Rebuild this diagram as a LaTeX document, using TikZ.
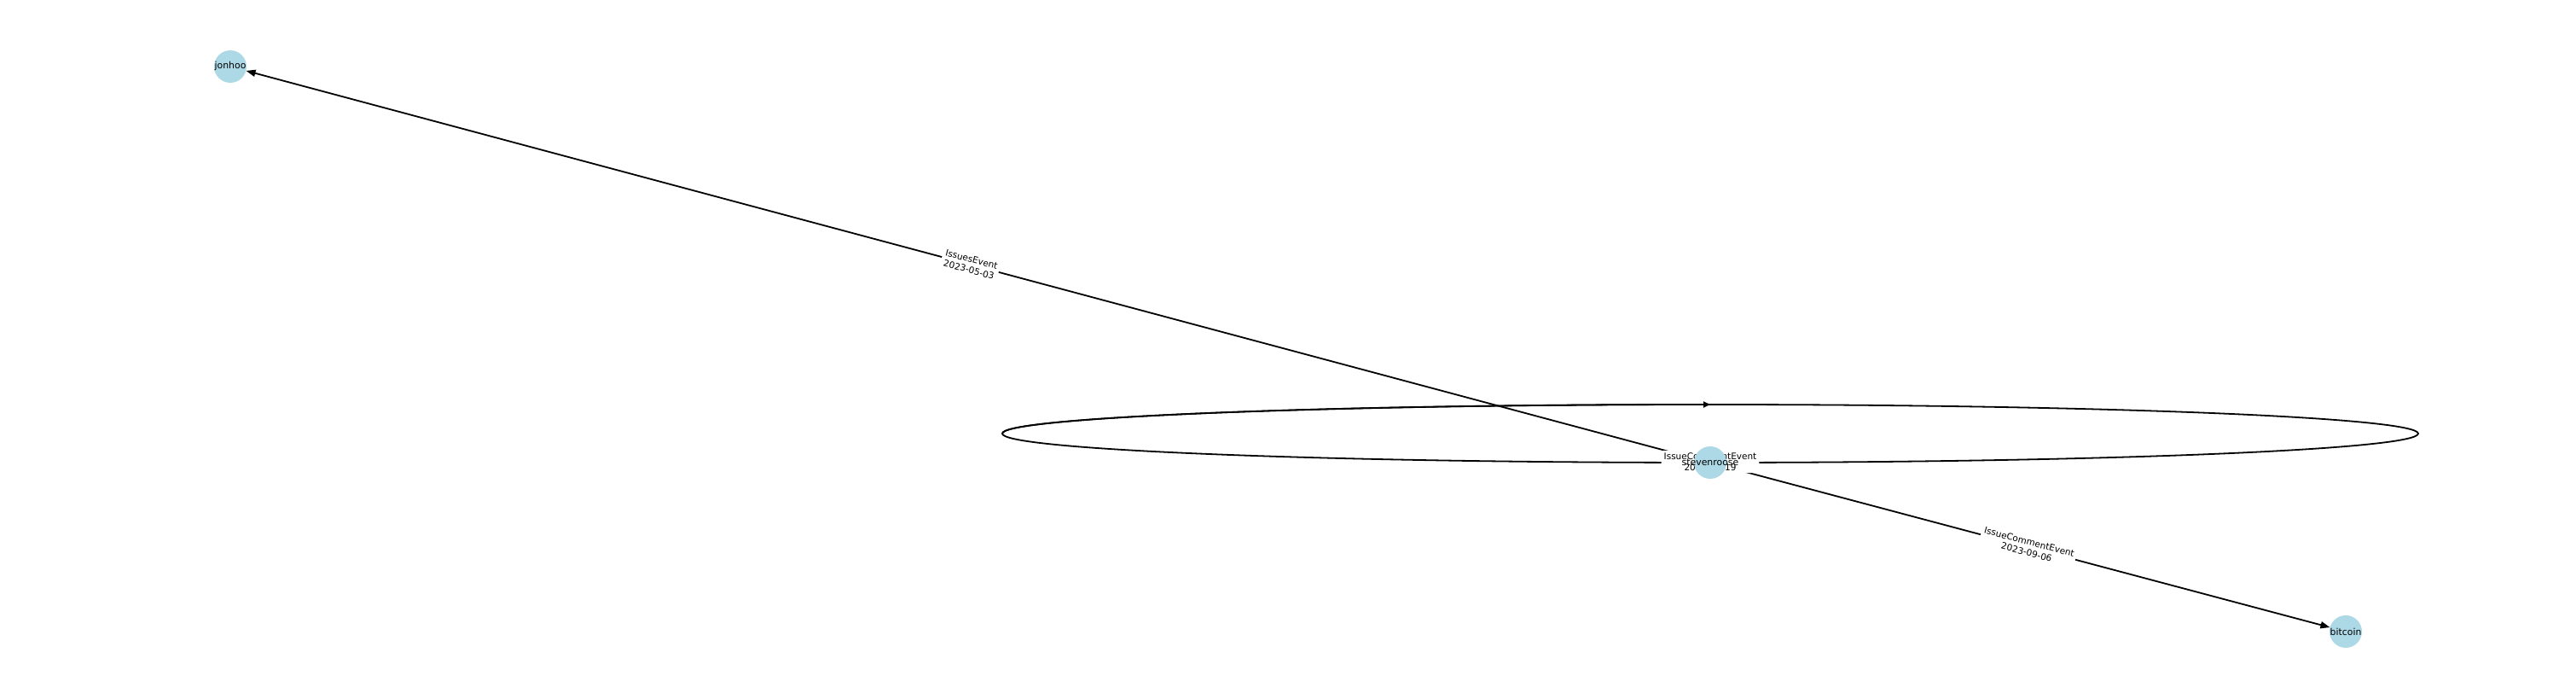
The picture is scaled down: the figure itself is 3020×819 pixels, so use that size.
\documentclass[tikz,border=0pt]{standalone}
\usepackage{fontspec}
\setmainfont{DejaVu Sans}
\usetikzlibrary{arrows.meta}
\definecolor{nodeblue}{RGB}{173,216,230}
\pgfdeclarelayer{edgelayer}
\pgfdeclarelayer{labellayer}
\pgfsetlayers{edgelayer,labellayer,main}
\begin{document}
\begin{tikzpicture}[x=1pt,y=1pt,
  vertex/.style={circle,fill=nodeblue,minimum size=38pt,inner sep=0pt},
  vtext/.style={font=\fontsize{10.9}{13}\selectfont,inner sep=0pt},
  edge/.style={line width=1.8pt,-{Triangle[length=11pt,width=8pt]}},
  loopline/.style={line width=1.8pt},
  elabel/.style={fill=white,rounded corners=3pt,inner sep=3pt,align=center,font=\fontsize{10.5}{12.5}\selectfont},
]
\useasboundingbox (0,0) rectangle (3020,819);
% vertices
\node[vertex] (j) at (270,741) {};
\node[vertex] (s) at (2005,277) {};
\node[vertex] (b) at (2750,79) {};
\node[vtext] (jt) at (j) {jonhoo};
\node[vtext] (st) at (s) {stevenroose};
\node[vtext] (bt) at (b) {bitcoin};
% edges
\begin{pgfonlayer}{edgelayer}
\draw[edge] (s) -- (j);
\draw[edge] (s) -- (b);
\coordinate (loopc) at (2005,311);
\coordinate (loopl) at (1175,311);
\draw[loopline] (loopc) ellipse [x radius=830, y radius=34];
\draw[loopline,-{Triangle[length=8pt,width=7pt]}] (loopl) arc[start angle=180, end angle=90, x radius=830, y radius=34];
\end{pgfonlayer}
% edge labels
\begin{pgfonlayer}{labellayer}
\path (j) -- (s) node[midway,sloped,elabel] (l1) {IssuesEvent\\2023-05-03};
\path (s) -- (b) node[midway,sloped,elabel] (l2) {IssueCommentEvent\\2023-09-06};
\node[elabel] (l3) at (2005,278) {IssueCommentEvent\\2023-09-19};
\end{pgfonlayer}
\end{tikzpicture}
\end{document}
